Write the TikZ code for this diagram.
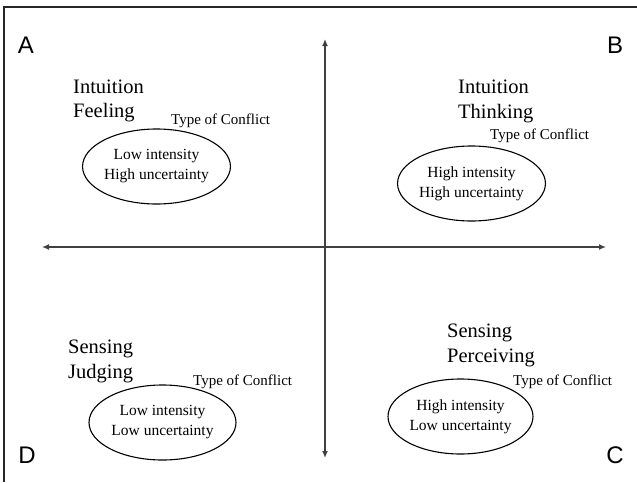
\documentclass[tikz,border=0pt]{standalone}
\usepackage{fontspec}
\setmainfont{Liberation Serif}
\newfontfamily\cornerfont{Liberation Sans}
\usetikzlibrary{arrows.meta,shapes.geometric}
\begin{document}
\begin{tikzpicture}[x=1pt,y=-1pt,
  frameline/.style={line width=1.3pt,draw=black!85},
  axisline/.style={line width=1.4pt,draw=black!75,{Latex[length=7pt,width=6pt]}-{Latex[length=7pt,width=6pt]}},
  corner/.style={font=\cornerfont\fontsize{24}{28}\selectfont,inner sep=0pt},
  typelabel/.style={font=\fontsize{20.5}{24}\selectfont,anchor=base west,inner sep=0pt},
  conflict/.style={font=\fontsize{15}{18}\selectfont,anchor=base west,inner sep=0pt},
  conflictbox/.style={ellipse,draw,line width=1.1pt,inner sep=0pt,
    minimum width=145pt,minimum height=75pt,align=center,
    font=\fontsize{15.5}{20}\selectfont}]
\useasboundingbox (0,0) rectangle (637,482);

% frame (top and left edges)
\coordinate (fbl) at (4,482);
\coordinate (ftl) at (4,7);
\coordinate (ftr) at (637,7);
\draw[frameline] (fbl) -- (ftl) -- (ftr);

% axes
\coordinate (vtop) at (325,39);
\coordinate (vbot) at (325,458);
\coordinate (hleft) at (42,247);
\coordinate (hright) at (606,247);
\draw[axisline] (vtop) -- (vbot);
\draw[axisline] (hleft) -- (hright);

% corner letters
\node[corner] (la) at (26,45) {A};
\node[corner] (lb) at (615,45) {B};
\node[corner] (lc) at (615,455) {C};
\node[corner] (ld) at (27,455) {D};

% quadrant A
\node[typelabel] (a1) at (73,93) {Intuition};
\node[typelabel] (a2) at (73,117) {Feeling};
\node[conflict] (at) at (171,124) {Type of Conflict};
\node[conflictbox] (ae) at (156.5,166.5) {Low intensity\\High uncertainty};

% quadrant B
\node[typelabel] (b1) at (458,93) {Intuition};
\node[typelabel] (b2) at (458,118) {Thinking};
\node[conflict] (bt) at (490,139) {Type of Conflict};
\node[conflictbox] (be) at (471.5,183.5) {High intensity\\High uncertainty};

% quadrant D
\node[typelabel] (d1) at (68,353) {Sensing};
\node[typelabel] (d2) at (68,378) {Judging};
\node[conflict] (dt) at (193,385) {Type of Conflict};
\node[conflictbox,minimum width=147pt] (de) at (162.5,422.5) {Low intensity\\Low uncertainty};

% quadrant C
\node[typelabel] (c1) at (447,337) {Sensing};
\node[typelabel] (c2) at (447,362) {Perceiving};
\node[conflict] (ct) at (513,385) {Type of Conflict};
\node[conflictbox] (ce) at (460.5,416.5) {High intensity\\Low uncertainty};
\end{tikzpicture}
\end{document}
